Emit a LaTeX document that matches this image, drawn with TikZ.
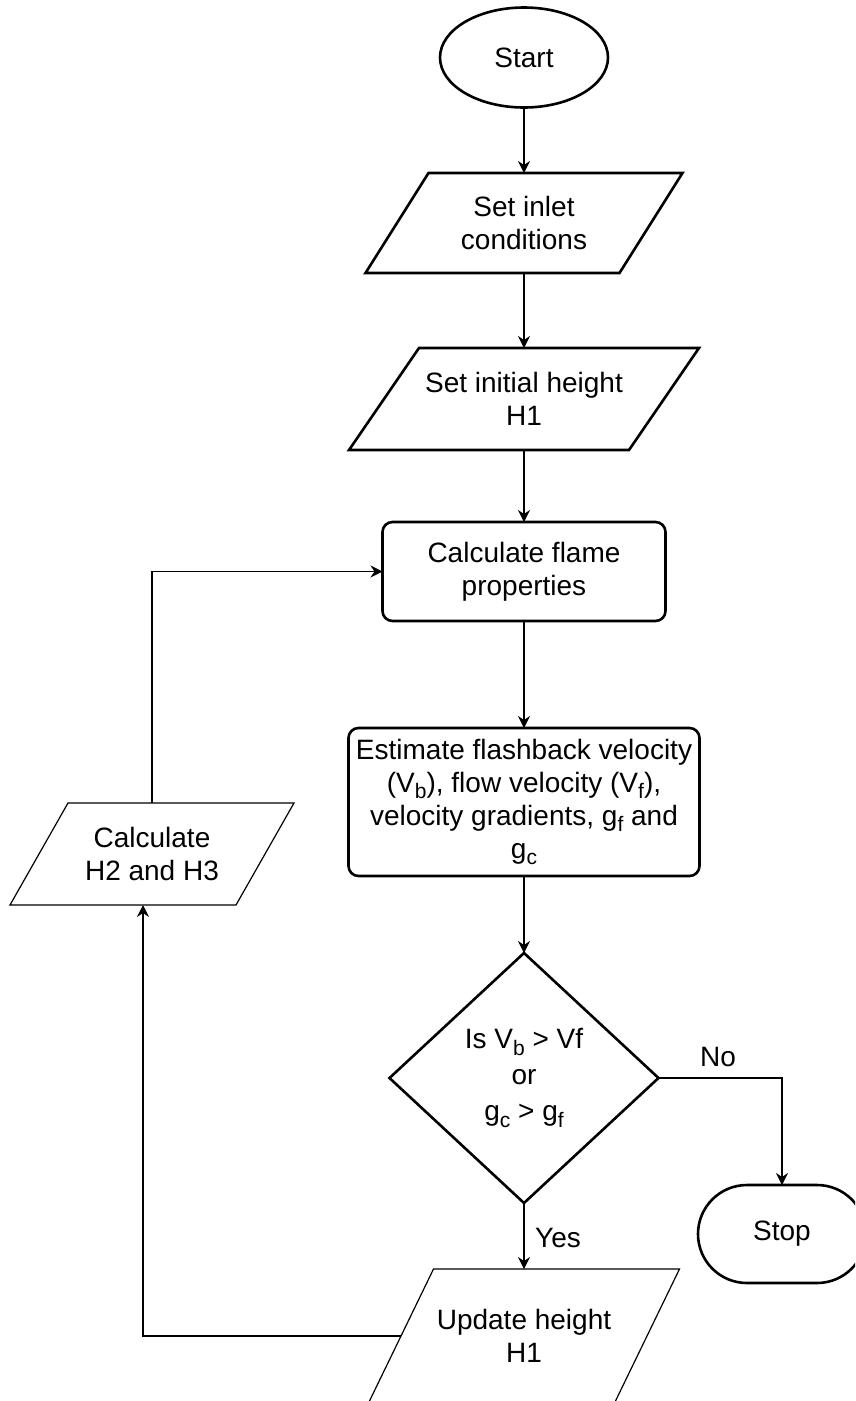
\documentclass[tikz,border=0pt]{standalone}
\usepackage{fontspec}
\setmainfont{Liberation Sans}
\usetikzlibrary{arrows.meta,calc,shapes.geometric}

% outline of a parallelogram laid over a plain (undrawn) node
\newcommand\pgramoutline[3]{%
  \draw[#3] ($(#1.north west)+(#2,0)$) -- (#1.north east)
    -- ($(#1.south east)-(#2,0)$) -- (#1.south west) -- cycle;}
% lowered, slightly smaller index letter
\newcommand\idx[1]{\raisebox{-0.22em}{\fontsize{21}{21}\selectfont #1}}

\begin{document}
\begin{tikzpicture}[x=1pt,y=-1pt,
  txt/.style={font=\fontsize{28}{33}\selectfont, align=center, text=black},
  box/.style={txt, inner sep=0pt, outer sep=0pt},
  heavy/.style={line width=2.6pt, draw=black},
  light/.style={line width=1.2pt, draw=black},
  conn/.style={light, -{Stealth[length=12pt,width=12pt,inset=4pt]}}
]
\useasboundingbox (0,0) rectangle (855,1401);
\clip (0,0) rectangle (855,1401);

% main column
\node[box, heavy, ellipse, minimum width=168, minimum height=100] (start) at (524,57.5) {Start};

\node[box, minimum width=317, minimum height=100] (inlet) at (524,223) {Set inlet\\conditions};
\pgramoutline{inlet}{63}{heavy}

\node[box, minimum width=350, minimum height=102] (hinit) at (524,399) {Set initial height\\H1};
\pgramoutline{hinit}{70}{heavy}

\node[box, heavy, rounded corners=10pt, minimum width=283, minimum height=99] (flame) at (524,571.5) {Calculate flame\\properties};

\node[box, heavy, rounded corners=10pt, minimum width=351, minimum height=148] (est) at (524,802)
  {Estimate flashback velocity\\(V\idx{b}), flow velocity (V\idx{f}),\\velocity gradients, g\idx{f} and\\g\idx{c}};

\node[box, font=\fontsize{28}{36}\selectfont, minimum width=269, minimum height=250] (test) at (524,1078)
  {Is V\idx{b} > Vf\\or\\g\idx{c} > g\idx{f}};
\draw[heavy] (test.north) -- (test.east) -- (test.south) -- (test.west) -- cycle;

\node[box, heavy, rounded corners=49pt, minimum width=168, minimum height=98] (stop) at (782,1234) {Stop};

\node[box, minimum width=311, minimum height=134] (upd) at (524,1336) {Update height\\H1};
\pgramoutline{upd}{65}{light}

% side loop
\node[box, minimum width=284, minimum height=102] (calc) at (152,854) {Calculate\\H2 and H3};
\pgramoutline{calc}{58}{light}

% connectors
\draw[conn] (start.south) -- (inlet.north);
\draw[conn] (inlet.south) -- (hinit.north);
\draw[conn] (hinit.south) -- (flame.north);
\draw[conn] (flame.south) -- (est.north);
\draw[conn] (est.south) -- (test.north);
\draw[conn] (test.east) -| (stop.north);
\draw[conn] (test.south) -- (upd.north);
\coordinate (updside) at ($(upd.west)+(32.5,0)$);
\coordinate (calcin) at ($(calc.south)+(-9,0)$);
\draw[conn] (updside) -| (calcin);
\draw[conn] (calc.north) |- (flame.west);

% branch labels
\node[txt] (no) at (718,1057) {No};
\node[txt] (yes) at (558,1238) {Yes};
\end{tikzpicture}
\end{document}
